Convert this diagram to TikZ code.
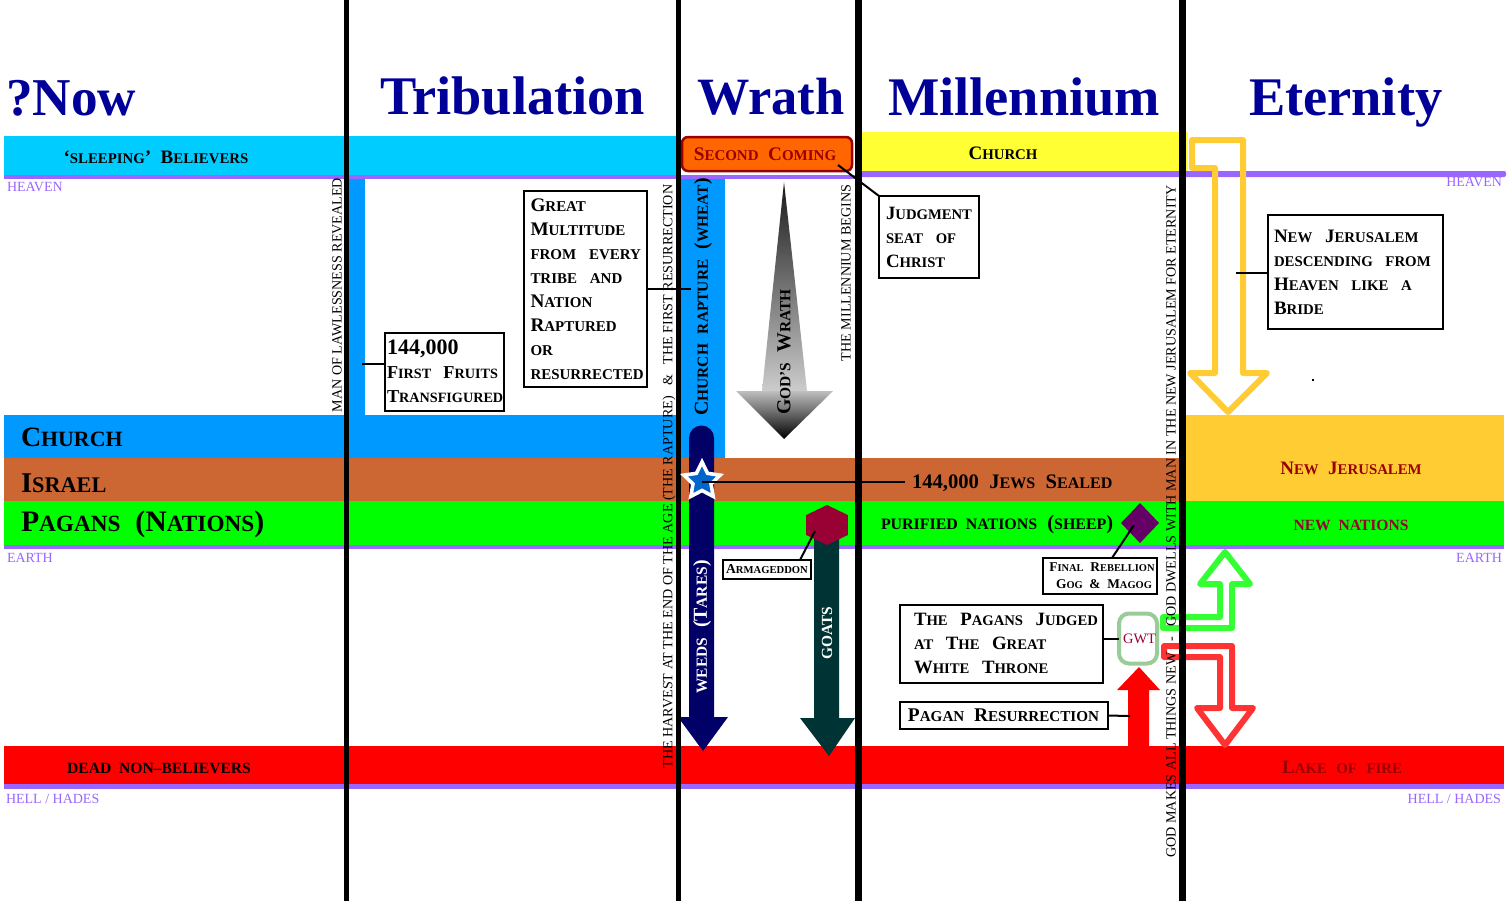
\documentclass[tikz,border=0pt]{standalone}
\usepackage{fontspec}
\setmainfont{Liberation Serif}
\usetikzlibrary{shapes.geometric}
\definecolor{titleblue}{HTML}{000099}
\definecolor{purpleline}{HTML}{9966FF}
\definecolor{skyband}{HTML}{00CCFF}
\definecolor{churchband}{HTML}{0099FF}
\definecolor{israelband}{HTML}{CC6633}
\definecolor{goldband}{HTML}{FFCC33}
\definecolor{yellowband}{HTML}{FFFF33}
\definecolor{darkred}{HTML}{990000}
\definecolor{wine}{HTML}{990033}
\definecolor{navyarrow}{HTML}{000066}
\definecolor{goatarrow}{HTML}{003333}
\definecolor{starblue}{HTML}{0066CC}
\definecolor{gogpurple}{HTML}{660066}
\definecolor{gwtgreen}{HTML}{99CC99}
\definecolor{comingorange}{HTML}{FF6600}
\makeatletter
\newcommand{\sm}[1]{{\@tempdima=\f@size pt\@tempdima=.78\@tempdima\fontsize{\the\@tempdima}{\baselineskip}\selectfont #1}}
\makeatother
\newcommand{\fs}[2]{\fontsize{#1}{#2}\selectfont}

\begin{document}
\begin{tikzpicture}[x=.5pt, y=-.5pt]
\tikzstyle{every node} = [inner sep=0pt, outer sep=0pt]
\tikzstyle{title} = [anchor=base west, text=titleblue, font=\bfseries\fs{27.2}{27}]
\tikzstyle{realm} = [text=purpleline, font=\fs{7}{7}]
\tikzstyle{label} = [font=\bfseries\fs{9.5}{12}]
\tikzstyle{biglabel} = [anchor=west, font=\bfseries\fs{14.3}{15}]
\tikzstyle{tall} = [rotate=90, font=\fs{7.05}{7}]
\tikzstyle{talllabel} = [rotate=90, font=\bfseries\fs{9.9}{10}]
\tikzstyle{note} = [draw=black, line width=1pt, fill=white, align=left, font=\bfseries\fs{9.5}{12}]
\tikzstyle{leader} = [draw=black, line width=1pt]
\tikzstyle{hollow} = [line width=3pt, line join=round, fill=none]
\useasboundingbox (0, 0) rectangle (1507, 901);

% bands
\fill [skyband] (4, 136) rectangle (678, 176);
\fill [yellowband] (860, 132) rectangle (1188, 172);
\fill [churchband] (4, 415) rectangle (678, 458);
\fill [churchband] (347, 176) rectangle (365, 458);
\fill [churchband] (680, 178) rectangle (725, 458);
\fill [israelband] (4, 458) rectangle (1180, 501);
\fill [goldband] (1185, 415) rectangle (1504, 501);
\fill [green] (4, 501) rectangle (1504, 545);
\fill [red] (4, 746) rectangle (1504, 784);
\fill [purpleline] (4, 175) rectangle (860, 179);
\fill [purpleline, rounded corners=1pt] (860, 171) rectangle (1506, 177);
\fill [purpleline] (4, 545) rectangle (1504, 549);
\fill [purpleline] (4, 784) rectangle (1504, 789);

% hollow arrows
\draw [hollow, goldband] (1192, 140) -- (1243, 140) -- (1243, 373) -- (1267, 373) -- (1228, 412)
  -- (1190, 373) -- (1215, 373) -- (1215, 168) -- (1192, 168) -- cycle;
\draw [hollow, green!80!white] (1163, 617) -- (1220, 617) -- (1220, 584) -- (1200, 584) -- (1225, 552)
  -- (1250, 584) -- (1232, 584) -- (1232, 628) -- (1163, 628) -- cycle;
\draw [hollow, red!80!white] (1164, 646) -- (1232, 646) -- (1232, 708) -- (1253, 708) -- (1225, 745)
  -- (1197, 708) -- (1220, 708) -- (1220, 657) -- (1164, 657) -- cycle;

% solid arrows
\fill [navyarrow] (689, 717) -- (689, 438) arc [start angle=180, end angle=0, radius=6.25pt]
  -- (714, 717) -- (728, 717) -- (703, 751) -- (678, 717) -- cycle;
\fill [goatarrow] (814, 718) -- (814, 520) -- (839, 520) -- (839, 718) -- (855, 718) -- (829, 756) -- (800, 718) -- cycle;
\fill [red] (1128, 746) -- (1128, 690) -- (1117, 690) -- (1139, 667) -- (1160, 690) -- (1149, 690) -- (1149, 746) -- cycle;
\shade [top color=black!90, bottom color=black!20] (784, 182) -- (807, 391) -- (762, 391) -- cycle;
\shade [top color=black!25, bottom color=black] (736, 391) -- (833, 391) -- (784, 439) -- cycle;

% black time lines
\foreach \linex/\linew in {346.5/2.5, 678/2.5, 858.5/3.25, 1182.5/3.25}
\draw [line width=\linew pt] (\linex, 0) -- (\linex, 901);

% titles
\node [title, font=\bfseries\fs{26.6}{27}] (now) at (6, 115) {?Now};
\node [title] (tribulation) at (380, 114) {Tribulation};
\node [title, font=\bfseries\fs{26.2}{27}] (wrath) at (697, 114) {Wrath};
\node [title] (millennium) at (888, 115) {Millennium};
\node [title] (eternity) at (1249, 115) {Eternity};

% realm names
\node [realm, anchor=west] (heavenl) at (7, 187) {HEAVEN};
\node [realm, anchor=east] (heavenr) at (1502, 182) {HEAVEN};
\node [realm, anchor=west] (earthl) at (7, 558) {EARTH};
\node [realm, anchor=east] (earthr) at (1502, 558) {EARTH};
\node [realm, anchor=west] (helll) at (6, 799) {HELL / HADES};
\node [realm, anchor=east] (hellr) at (1501, 799) {HELL / HADES};

% band labels
\node [label] (sleeping) at (156, 157) {`\sm{SLEEPING}'~~B\sm{ELIEVERS}};
\node [biglabel, font=\bfseries\fs{14}{15}] (church) at (21, 437) {C\sm{HURCH}};
\node [biglabel] (israel) at (21, 483) {I\sm{SRAEL}};
\node [biglabel, font=\bfseries\fs{14.9}{15}] (pagans) at (21, 524) {P\sm{AGANS}~~(N\sm{ATIONS})};
\node [label, font=\bfseries\fs{10}{12}] (dead) at (159, 768) {\sm{DEAD~~NON--BELIEVERS}};
\node [label] (churchup) at (1003, 153) {C\sm{HURCH}};
\node [label, anchor=west, font=\bfseries\fs{10.3}{12}] (sealed) at (912, 483) {144,000~~J\sm{EWS}~~S\sm{EALED}};
\node [label, anchor=west, font=\bfseries\fs{10.2}{12}] (sheep) at (881, 525) {\sm{PURIFIED~~NATIONS}~~(\sm{SHEEP})};
\node [label, text=darkred] (newjer) at (1351, 468) {N\sm{EW}~~J\sm{ERUSALEM}};
\node [label, text=wine, font=\bfseries\fs{10}{12}] (newnat) at (1351, 525) {\sm{NEW~~NATIONS}};
\node [label, text=darkred] (lake) at (1342, 767) {L\sm{AKE}~~\sm{OF}~~\sm{FIRE}};

% vertical texts
\node [tall] (lawless) at (337, 295) {MAN OF LAWLESSNESS REVEALED};
\node [tall] (harvest) at (669, 476.5) {THE HARVEST AT THE END OF THE AGE (THE RAPTURE)~~~\&~~~THE FIRST RESURRECTION};
\node [tall] (begins) at (846, 273) {THE MILLENNIUM BEGINS};
\node [tall] (makes) at (1171, 521.5) {GOD MAKES ALL THINGS NEW~~~-~~~GOD DWELLS WITH MAN IN THE NEW JERUSALEM FOR ETERNITY};
\node [talllabel] (rapture) at (703, 297) {C\sm{HURCH}~~\sm{RAPTURE}~~(\sm{WHEAT})};
\node [talllabel, text=white] (weeds) at (702, 627) {\sm{WEEDS}~~(T\sm{ARES})};
\node [talllabel, text=white] (goats) at (827, 633) {\sm{GOATS}};
\node [talllabel] (godswrath) at (784, 352) {G\sm{OD'S}~~W\sm{RATH}};

% markers
\node [star, star points=5, star point ratio=2, minimum size=19pt, draw=white, line width=1.8pt, fill=starblue] (sealstar) at (702, 481) {};
\node [regular polygon, regular polygon sides=6, shape border rotate=30, xscale=1.2, minimum size=20pt, fill=wine] (armahex) at (827, 525) {};
\node [diamond, minimum width=19pt, minimum height=20pt, fill=gogpurple] (gogmark) at (1140, 523) {};
\node [rectangle, rounded corners=5pt, draw=gwtgreen, line width=2pt, minimum width=19pt, minimum height=25pt, text=wine, font=\fs{7.2}{7}] (gwt) at (1138, 638.5) {\hspace{1.5pt}GWT};
\node [fill=comingorange, draw=darkred, line width=1.25pt, rounded corners=3pt, minimum width=85pt, minimum height=17pt, text=darkred, font=\bfseries\fs{9.6}{12}] (second) at (767, 154) {\hspace{-2pt}S\sm{ECOND}~~C\sm{OMING}};

% boxes
\node [note, text width=57.5pt, minimum height=39pt, inner xsep=1pt, font=\bfseries\fs{9.1}{12}] (fruits) at (444.5, 371.5) {{\fs{11}{12}144,000}\\ F\sm{IRST}~~F\sm{RUITS}\\ T\sm{RANSFIGURED}};
\node [note, text width=55pt, minimum height=98pt, inner xsep=3.25pt, font=\bfseries\fs{9.6}{12}] (multitude) at (585.5, 289) {G\sm{REAT}\\ M\sm{ULTITUDE}\\ \mbox{\sm{FROM}~~\sm{EVERY}}\\ \sm{TRIBE}~~\sm{AND}\\ N\sm{ATION}\\ R\sm{APTURED}\\ \sm{OR}\\ \sm{RESURRECTED}};
\node [note, text width=43pt, minimum height=41pt, inner xsep=3.5pt, font=\bfseries\fs{9.4}{12}] (judgment) at (929, 237) {J\sm{UDGMENT}\\ \sm{SEAT}~~\sm{OF}\\ C\sm{HRIST}};
\node [note, text width=81.5pt, minimum height=57pt, inner xsep=3pt] (bride) at (1355.5, 272) {N\sm{EW}~~J\sm{ERUSALEM}\\ \sm{DESCENDING}~~\sm{FROM}\\ H\sm{EAVEN}~~\sm{LIKE}~~\sm{A}\\ B\sm{RIDE}};
\node [note, text width=87.5pt, minimum height=39pt, inner xsep=7pt, font=\bfseries\fs{9.4}{12}] (judged) at (1001.5, 643.5) {T\sm{HE}~~P\sm{AGANS}~~J\sm{UDGED}\\ \sm{AT}~~T\sm{HE}~~G\sm{REAT}\\ W\sm{HITE}~~T\sm{HRONE}};
\node [note, align=center, minimum width=104pt, minimum height=13.5pt, font=\bfseries\fs{9.7}{12}] (paganres) at (1003.5, 715.5) {P\sm{AGAN}~~R\sm{ESURRECTION}};
\node [note, align=center, minimum width=44pt, minimum height=9.5pt, font=\bfseries\fs{6.8}{8}] (armageddon) at (767, 569.5) {A\sm{RMAGEDDON}};
\node [note, align=center, minimum width=57pt, minimum height=18pt, font=\bfseries\fs{6.7}{8.5}] (rebellion) at (1100, 576) {\hspace{2pt}F\sm{INAL}~~R\sm{EBELLION}\\ \hspace{4pt}G\sm{OG}~~\&~~M\sm{AGOG}};

% leaders
\coordinate (fruitsend) at (362, 364);
\coordinate (raptureend) at (691, 289);
\coordinate (secondend) at (838, 165);
\coordinate (sealedend) at (905, 482);
\coordinate (hexend) at (815, 531);
\coordinate (gogend) at (1134, 525);
\coordinate (brideend) at (1236, 273);
\coordinate (uparrow) at (1130, 716);
\draw [leader] (fruitsend) -- (fruits.west |- fruitsend);
\draw [leader] (multitude.east) -- (raptureend);
\draw [leader] (secondend) -- (judgment.north west);
\draw [leader] (sealstar.center |- sealedend) -- (sealedend);
\draw [leader] (armageddon.north east) ++(-11, 0) -- (hexend);
\draw [leader] (rebellion.north east) ++(-45, 0) -- (gogend);
\draw [leader] (judged.east |- gwt) -- (gwt.west);
\draw [leader] (paganres.east) -- (uparrow);
\draw [leader] (brideend) -- (bride.west |- brideend);
\fill (1312, 379) rectangle (1314, 381);
\end{tikzpicture}
\end{document}
